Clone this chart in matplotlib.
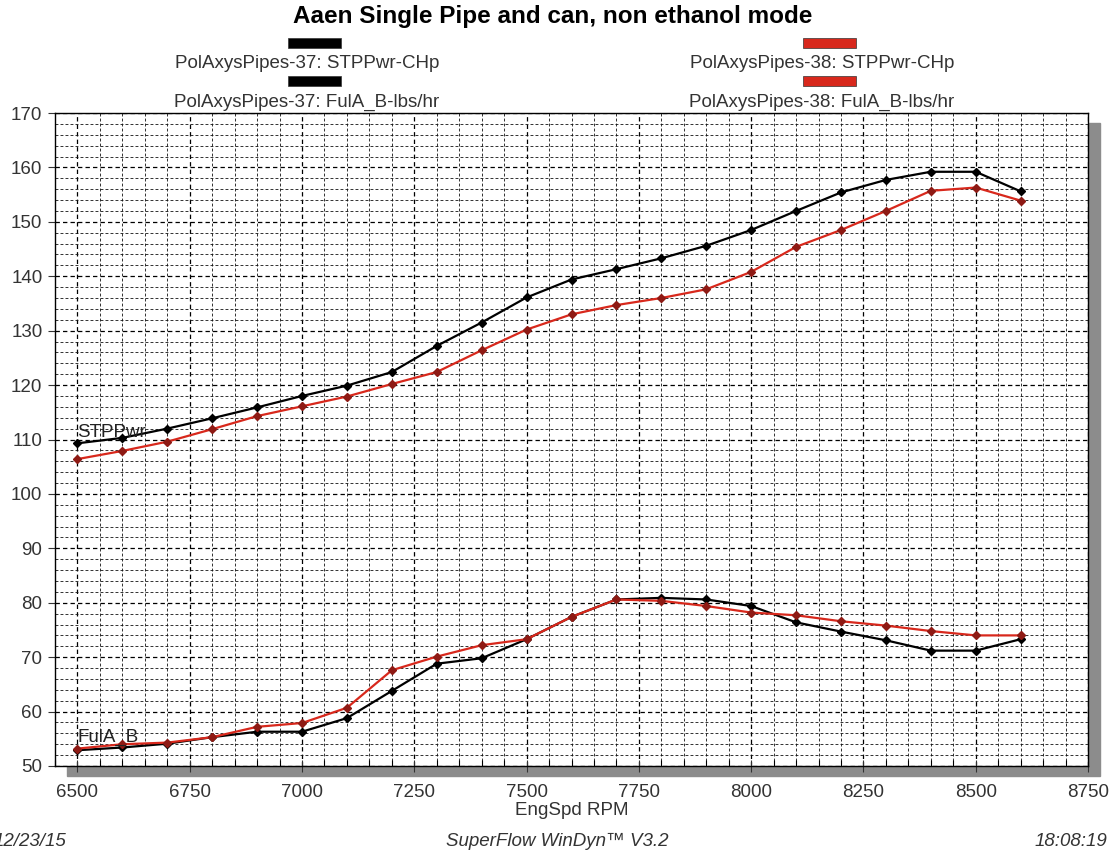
import numpy as np
import matplotlib
matplotlib.use('Agg')
import matplotlib.pyplot as plt
from matplotlib.patches import Rectangle
from matplotlib.ticker import MultipleLocator

plt.rcParams['font.family'] = ['Liberation Sans', 'DejaVu Sans']

# engine speed, rpm
rpm = [6500, 6600, 6700, 6800, 6900, 7000, 7100, 7200, 7300, 7400, 7500,
       7600, 7700, 7800, 7900, 8000, 8100, 8200, 8300, 8400, 8500, 8600]

# PolAxysPipes-37 (black)
pwr_37 = [109.3, 110.3, 112.0, 113.9, 115.9, 118.0, 119.9, 122.4, 127.2, 131.5, 136.1,
          139.4, 141.3, 143.3, 145.6, 148.5, 152.0, 155.4, 157.7, 159.2, 159.2, 155.6]
fuel_37 = [52.9, 53.4, 54.1, 55.3, 56.3, 56.3, 58.8, 63.8, 68.8, 69.8, 73.3,
           77.4, 80.6, 80.9, 80.6, 79.4, 76.4, 74.7, 73.1, 71.2, 71.2, 73.3]

# PolAxysPipes-38 (red)
pwr_38 = [106.4, 107.9, 109.6, 111.9, 114.3, 116.1, 117.9, 120.2, 122.4, 126.4, 130.2,
          133.0, 134.7, 136.0, 137.6, 140.8, 145.4, 148.5, 152.0, 155.7, 156.3, 153.9]
fuel_38 = [53.2, 54.0, 54.3, 55.3, 57.2, 57.9, 60.7, 67.6, 70.1, 72.2, 73.3,
           77.4, 80.6, 80.35, 79.4, 78.2, 77.7, 76.6, 75.8, 74.8, 74.0, 74.0]

legend_names = ['PolAxysPipes-37: STPPwr-CHp', 'PolAxysPipes-37: FulA_B-lbs/hr',
                'PolAxysPipes-38: STPPwr-CHp', 'PolAxysPipes-38: FulA_B-lbs/hr']

BLACK = '#000000'
RED = '#d8281c'
RED_MARK = '#8e1a14'
TXT = '#333333'
FS = 13.5

W, H = 1112, 852
fig = plt.figure(figsize=(W / 100, H / 100), dpi=100)

l, r, t, b = 55, 1088, 113, 766
ax_rect = [l / W, 1 - b / H, (r - l) / W, (b - t) / H]

# drop shadow behind the plot area
fig.patches.append(Rectangle(((l + 12) / W, 1 - (b + 10) / H), (r - l) / W, (b - t) / H,
                             transform=fig.transFigure, color='#8c8c8c', zorder=0))

ax = fig.add_axes(ax_rect)
ax.set_facecolor('white')
ax.set_zorder(1)

ax.set_xlim(6450, 8750)
ax.set_ylim(50, 170)
ax.xaxis.set_major_locator(MultipleLocator(250))
ax.xaxis.set_minor_locator(MultipleLocator(50))
ax.yaxis.set_major_locator(MultipleLocator(10))
ax.yaxis.set_minor_locator(MultipleLocator(2))

ax.grid(which='minor', color='#111111', linestyle=(0, (3.5, 2.5)), linewidth=0.6)
ax.grid(which='major', color='black', linestyle=(0, (3.5, 2.5)), linewidth=0.9)
ax.set_axisbelow(True)

ax.tick_params(which='major', axis='y', direction='out', length=5, width=0.8, labelsize=FS,
               colors=TXT, pad=4)
ax.tick_params(which='minor', axis='y', length=0)
ax.tick_params(which='major', axis='x', direction='inout', length=8, width=0.8, labelsize=FS,
               colors=TXT, pad=9)
ax.tick_params(which='minor', axis='x', direction='in', length=4, width=0.8)
for s in ax.spines.values():
    s.set_linewidth(1.0)

ax.plot(rpm, pwr_37, color=BLACK, lw=1.6, marker='D', ms=4, zorder=3)
ax.plot(rpm, pwr_38, color=RED, lw=1.6, marker='D', ms=4, mfc=RED_MARK, mec=RED_MARK, zorder=3)
ax.plot(rpm, fuel_37, color=BLACK, lw=1.6, marker='D', ms=4, zorder=3)
ax.plot(rpm, fuel_38, color=RED, lw=1.6, marker='D', ms=4, mfc=RED_MARK, mec=RED_MARK, zorder=3)

ax.text(rpm[0], pwr_37[0] + 0.5, 'STPPwr', fontsize=FS, color='#222222', ha='left', va='bottom', zorder=4)
ax.text(rpm[0], fuel_38[0] + 0.5, 'FulA_B', fontsize=FS, color='#222222', ha='left', va='bottom', zorder=4)

ax.set_xlabel('EngSpd RPM', fontsize=FS, color=TXT, labelpad=1)

# title and legend
fig.text(553 / W, 1 - 16 / H, 'Aaen Single Pipe and can, non ethanol mode', ha='center', va='center',
         fontsize=17.5, fontweight='bold')
leg = [(307, 64, BLACK, legend_names[0]), (307, 102, BLACK, legend_names[1]),
       (822, 64, RED, legend_names[2]), (822, 102, RED, legend_names[3])]
for cx, cy, col, name in leg:
    fig.patches.append(Rectangle(((cx - 19) / W, 1 - (cy - 16) / H), 53 / W, 10 / H,
                                 transform=fig.transFigure, facecolor=col, edgecolor=TXT,
                                 lw=0.5))
    fig.text(cx / W, 1 - cy / H, name, ha='center', va='center', fontsize=FS, color=TXT)

# footer
fig.text(-6 / W, 1 - 841 / H, '12/23/15', ha='left', va='center', fontsize=FS, style='italic', color=TXT)
fig.text(557 / W, 1 - 841 / H, 'SuperFlow WinDyn\u2122 V3.2', ha='center', va='center', fontsize=FS,
         style='italic', color=TXT)
fig.text(1107 / W, 1 - 841 / H, '18:08:19', ha='right', va='center', fontsize=FS, style='italic', color=TXT)

fig.savefig('out.png', dpi=100)
